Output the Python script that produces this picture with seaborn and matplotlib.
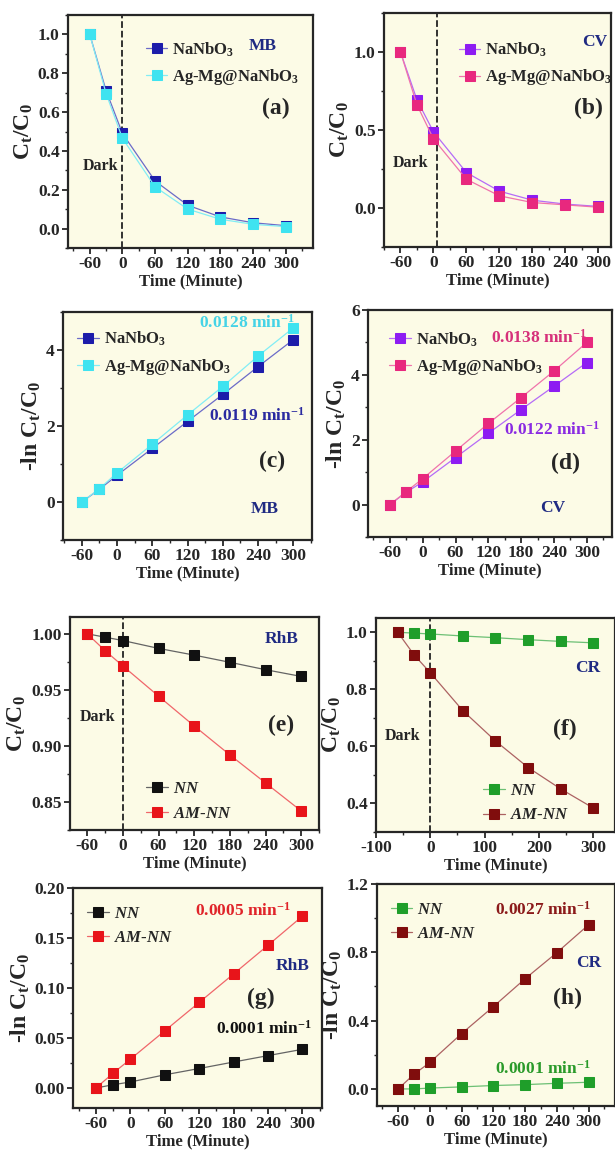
import numpy as np
import pandas as pd
import seaborn as sns
import matplotlib
matplotlib.use("Agg")
from matplotlib import pyplot as plt
from matplotlib.ticker import MultipleLocator, FormatStrFormatter
from matplotlib.colors import to_rgb

# ---- data ----
t = [-60, -30, 0, 60, 120, 180, 240, 300]

# (a) MB, C/C0
a_nn = [1.0, 0.71, 0.49, 0.245, 0.12, 0.06, 0.03, 0.015]
a_am = [1.0, 0.695, 0.465, 0.215, 0.10, 0.048, 0.022, 0.01]
# (b) CV, C/C0
b_nn = [1.0, 0.693, 0.488, 0.227, 0.108, 0.05, 0.025, 0.01]
b_am = [1.0, 0.661, 0.443, 0.184, 0.078, 0.035, 0.02, 0.005]
# (c) MB, -ln C/C0
c_nn = [0.0, 0.334, 0.703, 1.41, 2.12, 2.83, 3.56, 4.27]
c_am = [0.0, 0.35, 0.765, 1.52, 2.29, 3.04, 3.84, 4.58]
# (d) CV, -ln C/C0
d_nn = [0.0, 0.38, 0.70, 1.45, 2.20, 2.93, 3.65, 4.38]
d_am = [0.0, 0.40, 0.80, 1.65, 2.50, 3.30, 4.12, 5.0]
# (e) RhB, C/C0
e_nn = [1.0, 0.997, 0.994, 0.987, 0.981, 0.9746, 0.968, 0.962]
e_am = [1.0, 0.985, 0.9713, 0.9444, 0.9178, 0.892, 0.867, 0.842]
# (f) CR, C/C0
f_nn = [1.0, 0.997, 0.994, 0.987, 0.981, 0.974, 0.968, 0.963]
f_am = [1.0, 0.921, 0.858, 0.725, 0.619, 0.526, 0.451, 0.384]
# (g) RhB, -ln C/C0
g_nn = [0.0, 0.0033, 0.006, 0.0132, 0.0195, 0.026, 0.0324, 0.0387]
g_am = [0.0, 0.0149, 0.0288, 0.0572, 0.0856, 0.1141, 0.1428, 0.1719]
# (h) CR, -ln C/C0
h_nn = [0.0, 0.0, 0.005, 0.012, 0.02, 0.025, 0.033, 0.039]
h_am = [0.0, 0.086, 0.155, 0.324, 0.482, 0.645, 0.798, 0.961]

lab_nn1 = "NaNbO$_3$"
lab_am1 = "Ag-Mg@NaNbO$_3$"
lab_nn2 = "$\\it{NN}$"
lab_am2 = "$\\it{AM}$-$\\it{NN}$"

sns.set_style("ticks")
plt.rcParams["font.family"] = ["Liberation Serif", "DejaVu Serif"]
plt.rcParams["font.weight"] = "bold"
plt.rcParams["axes.unicode_minus"] = False
plt.rcParams["mathtext.fontset"] = "custom"
plt.rcParams["mathtext.rm"] = "Liberation Serif:bold"
plt.rcParams["mathtext.it"] = "Liberation Serif:bold:italic"
plt.rcParams["mathtext.bf"] = "Liberation Serif:bold"

BG = "#fcfbe6"
NAVY = "#1f2a82"
TS = 12.5   # annotation text size


def lighter(c, f=0.35):
    r, g, b = to_rgb(c)
    return (r + (1 - r) * f, g + (1 - g) * f, b + (1 - b) * f)


fig = plt.figure(figsize=(6.15, 11.51), dpi=100)
W, H = 615, 1151


def make_ax(l, tp, r, bt):
    return fig.add_axes([l / W, 1 - bt / H, (r - l) / W, (bt - tp) / H])


def draw(ax, series, xlim, ylim, xmaj, xmin, ymaj, ymin, yfmt, ylabel, leg_anchor):
    ax.set_facecolor(BG)
    for vals, col, lab in series:
        df = pd.DataFrame({"t": t, "v": vals})
        sns.lineplot(data=df, x="t", y="v", ax=ax, color=lighter(col), lw=0.9,
                     marker="s", markersize=7, markerfacecolor=col,
                     markeredgecolor=col, label=lab, sort=False)
    ax.set_xlim(*xlim)
    ax.set_ylim(*ylim)
    ax.xaxis.set_major_locator(MultipleLocator(xmaj))
    ax.xaxis.set_minor_locator(MultipleLocator(xmin))
    ax.yaxis.set_major_locator(MultipleLocator(ymaj))
    ax.yaxis.set_minor_locator(MultipleLocator(ymin))
    ax.yaxis.set_major_formatter(FormatStrFormatter(yfmt))
    ax.tick_params(which="major", direction="out", length=4, width=1.3,
                   labelsize=12.5, pad=2)
    ax.tick_params(which="minor", direction="out", length=2.5, width=1.0)
    for s in ax.spines.values():
        s.set_linewidth(1.6)
    ax.set_xlabel("Time (Minute)", fontsize=12, fontweight="bold", labelpad=0.5)
    ax.set_ylabel(ylabel, fontsize=17, fontweight="bold", labelpad=2)
    ax.legend(loc="upper left", bbox_to_anchor=leg_anchor, frameon=False,
              fontsize=12, handlelength=1.3, handletextpad=0.3,
              labelspacing=0.5, borderaxespad=0)


YC = "C$_\\mathrm{t}$/C$_0$"
YL = "-ln C$_\\mathrm{t}$/C$_0$"
xt = np.arange(-60, 301, 60)

# (a)
ax = make_ax(68, 15, 313, 248)
draw(ax, [(a_nn, "#1c1caa", lab_nn1), (a_am, "#3fe3f0", lab_am1)],
     (-100, 350), (-0.1, 1.1), 60, 30, 0.2, 0.1, "%.1f", YC, (0.29, 0.92))
ax.set_xticks(xt)
ax.axvline(0, ls="--", color="#222222", lw=1.3, zorder=1)
ax.text(-8, 0.32, "Dark", ha="right", va="center", fontsize=11.5)
ax.text(257, 0.94, "MB", color=NAVY, ha="center", va="center", fontsize=TS)
ax.text(282, 0.62, "(a)", ha="center", va="center", fontsize=17)

# (b)
ax = make_ax(384, 13, 611, 247)
draw(ax, [(b_nn, "#8d1cf2", lab_nn1), (b_am, "#e8287e", lab_am1)],
     (-90, 323), (-0.25, 1.25), 60, 30, 0.5, 0.25, "%.1f", YC, (0.3, 0.91))
ax.set_xticks(xt)
ax.axvline(7, ls="--", color="#222222", lw=1.3, zorder=1)
ax.text(-10, 0.29, "Dark", ha="right", va="center", fontsize=11.5)
ax.text(294, 1.065, "CV", color=NAVY, ha="center", va="center", fontsize=TS)
ax.text(282, 0.64, "(b)", ha="center", va="center", fontsize=17)

# (c)
ax = make_ax(63, 312, 312, 540)
draw(ax, [(c_nn, "#1c1caa", lab_nn1), (c_am, "#3fe3f0", lab_am1)],
     (-92, 332), (-1, 5), 60, 30, 2, 1, "%d", YL, (0.03, 0.95))
ax.set_xticks(xt)
ax.text(302, 4.73, "0.0128 min$^{-1}$", color="#45d3e6", ha="right", va="center", fontsize=TS)
ax.text(320, 2.27, "0.0119 min$^{-1}$", color="#2a2aa0", ha="right", va="center", fontsize=TS)
ax.text(264, 1.08, "(c)", ha="center", va="center", fontsize=17)
ax.text(252, -0.18, "MB", color=NAVY, ha="center", va="center", fontsize=TS)

# (d)
ax = make_ax(368, 310, 612, 537)
draw(ax, [(d_nn, "#8d1cf2", lab_nn1), (d_am, "#e8287e", lab_am1)],
     (-100, 346), (-1, 6), 60, 30, 2, 1, "%d", YL, (0.06, 0.94))
ax.set_xticks(xt)
ax.text(300, 5.15, "0.0138 min$^{-1}$", color="#d6307a", ha="right", va="center", fontsize=TS)
ax.text(324, 2.32, "0.0122 min$^{-1}$", color="#8a2be2", ha="right", va="center", fontsize=TS)
ax.text(261, 1.27, "(d)", ha="center", va="center", fontsize=17)
ax.text(237, -0.12, "CV", color=NAVY, ha="center", va="center", fontsize=TS)

# (e)
ax = make_ax(70, 617, 319, 830)
draw(ax, [(e_nn, "#111111", lab_nn2), (e_am, "#e8141a", lab_am2)],
     (-89, 330), (0.825, 1.015), 60, 30, 0.05, 0.025, "%.2f", YC, (0.28, 0.26))
ax.set_xticks(xt)
ax.axvline(0, ls="--", color="#222222", lw=1.3, zorder=1)
ax.text(-13, 0.926, "Dark", ha="right", va="center", fontsize=11.5)
ax.text(267, 0.9956, "RhB", color=NAVY, ha="center", va="center", fontsize=TS)
ax.text(267, 0.918, "(e)", ha="center", va="center", fontsize=17)

# (f)
ax = make_ax(376, 618, 615, 832)
draw(ax, [(f_nn, "#1f9e2a", lab_nn2), (f_am, "#800d0d", lab_am2)],
     (-100, 340), (0.3, 1.05), 100, 50, 0.2, 0.1, "%.1f", YC, (0.42, 0.26))
ax.axvline(0, ls="--", color="#222222", lw=1.3, zorder=1)
ax.text(-19, 0.636, "Dark", ha="right", va="center", fontsize=11.5)
ax.text(290, 0.875, "CR", color=NAVY, ha="center", va="center", fontsize=TS)
ax.text(248, 0.66, "(f)", ha="center", va="center", fontsize=17)

# (g)
ax = make_ax(73, 888, 322, 1108)
draw(ax, [(g_nn, "#111111", lab_nn2), (g_am, "#e8141a", lab_am2)],
     (-100, 334), (-0.02, 0.20), 60, 30, 0.05, 0.025, "%.2f", YL, (0.03, 0.95))
ax.set_xticks(xt)
ax.text(279, 0.177, "0.0005 min$^{-1}$", color="#e0242a", ha="right", va="center", fontsize=TS)
ax.text(316, 0.0595, "0.0001 min$^{-1}$", color="#111111", ha="right", va="center", fontsize=TS)
ax.text(283, 0.122, "RhB", color=NAVY, ha="center", va="center", fontsize=TS)
ax.text(228, 0.09, "(g)", ha="center", va="center", fontsize=17)

# (h)
ax = make_ax(377, 884, 615, 1106)
draw(ax, [(h_nn, "#1f9e2a", lab_nn2), (h_am, "#800d0d", lab_am2)],
     (-100, 350), (-0.1, 1.2), 60, 30, 0.4, 0.2, "%.1f", YL, (0.03, 0.95))
ax.set_xticks(xt)
ax.text(304, 1.05, "0.0027 min$^{-1}$", color="#8b1a1a", ha="right", va="center", fontsize=TS)
ax.text(304, 0.12, "0.0001 min$^{-1}$", color="#2a9a2a", ha="right", va="center", fontsize=TS)
ax.text(300, 0.74, "CR", color=NAVY, ha="center", va="center", fontsize=TS)
ax.text(260, 0.53, "(h)", ha="center", va="center", fontsize=17)

fig.savefig("out.png", dpi=100, facecolor="white")
